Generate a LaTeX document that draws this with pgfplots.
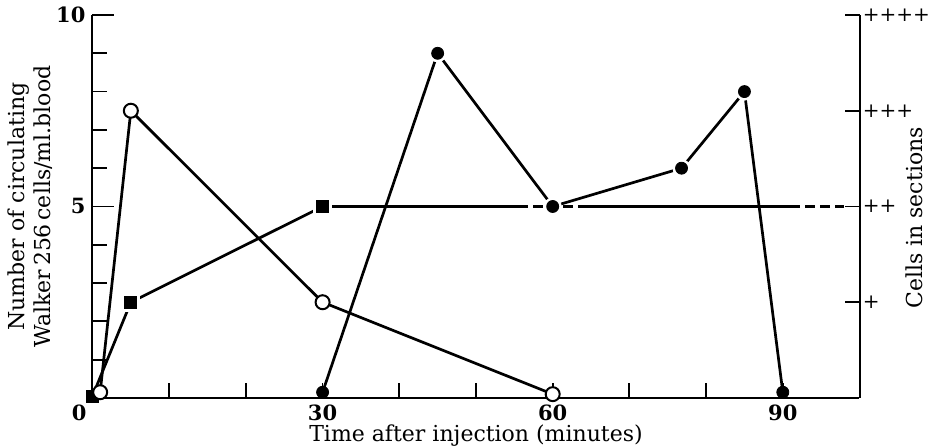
\documentclass[border=0pt]{standalone}
\usepackage{fontspec}
\setmainfont{DejaVu Serif}
\usepackage{pgfplots}
\pgfplotsset{compat=1.18}
\begin{document}
\begin{tikzpicture}
\useasboundingbox (-46.25pt,-25pt) rectangle (420.75pt,199pt);
\pgfplotsset{
  common/.style={
    scale only axis, width=383.5pt, height=191.5pt,
    at={(0,0)}, anchor=south west,
    xmin=0, xmax=100, ymin=0, ymax=10, clip=false,
    /pgf/number format/assume math mode=true,
    font=\fontsize{11}{13}\selectfont,
    tick align=inside,
    axis line style={line width=1pt,-},
    tick style={line width=0.9pt, black},
  }
}
\begin{axis}[common,
  axis x line*=bottom, axis y line*=left,
  xtick={0,30,60,90}, major x tick style={draw=none},
  xticklabels={\makebox[0pt][r]{0\kern3pt},30,60,90},
  minor xtick={10,20,30,40,50,60,70,80,90},
  ytick={5,10}, minor ytick={1,2,3,4,6,7,8,9},
  major tick length=11pt, minor tick length=7.5pt,
  ticklabel style={font=\fontsize{10.5}{12.5}\selectfont\bfseries},
  xlabel={Time after injection (minutes)},
  xlabel style={yshift=5pt},
  ylabel={Number of circulating\\Walker\,256\,cells/ml.blood},
  ylabel style={align=center, yshift=-5pt},
]
% squares series
\addplot[line width=1.35pt] coordinates {(0,0.05)(5,2.5)(30,5)(55.5,5)};
\addplot[line width=1.35pt, dash pattern=on 5pt off 2.5pt] coordinates {(55.5,5)(64.5,5)};
\addplot[line width=1.35pt] coordinates {(64.5,5)(91,5)};
\addplot[line width=1.35pt, dash pattern=on 5pt off 2.5pt] coordinates {(91,5)(98,5)};
\addplot[only marks, mark=square*, mark size=4.4pt, white] coordinates {(5,2.5)(30,5)};
\addplot[only marks, mark=square*, mark size=3pt, black] coordinates {(0,0.05)(5,2.5)(30,5)};
% open circles
\addplot[line width=1.35pt, mark=*, mark size=3.5pt, mark options={fill=white, line width=1pt}] coordinates {(1,0.15)(5,7.5)(30,2.5)(60,0.1)};
% filled circles
\addplot[line width=1.35pt] coordinates {(30,0.15)(45,9)(60,5)(76.8,6)(85,8)(90,0.15)};
\addplot[only marks, mark=*, mark size=4.3pt, white] coordinates {(45,9)(60,5)(76.8,6)(85,8)};
\addplot[only marks, mark=*, mark size=3pt, black] coordinates {(30,0.15)(45,9)(60,5)(76.8,6)(85,8)(90,0.15)};
\end{axis}
\begin{axis}[common,
  axis x line=none, axis y line*=right,
  ytick={2.5,5,7.5,10}, yticklabels={+,++,+++,++++},
  yticklabel style={font=\fontsize{10}{12}\selectfont, inner sep=1.5pt},
  major tick length=7.5pt,
  ylabel={Cells in sections},
  ylabel style={at={(axis description cs:1.072,0.47)}, anchor=center},
]
\end{axis}
\end{tikzpicture}
\end{document}
